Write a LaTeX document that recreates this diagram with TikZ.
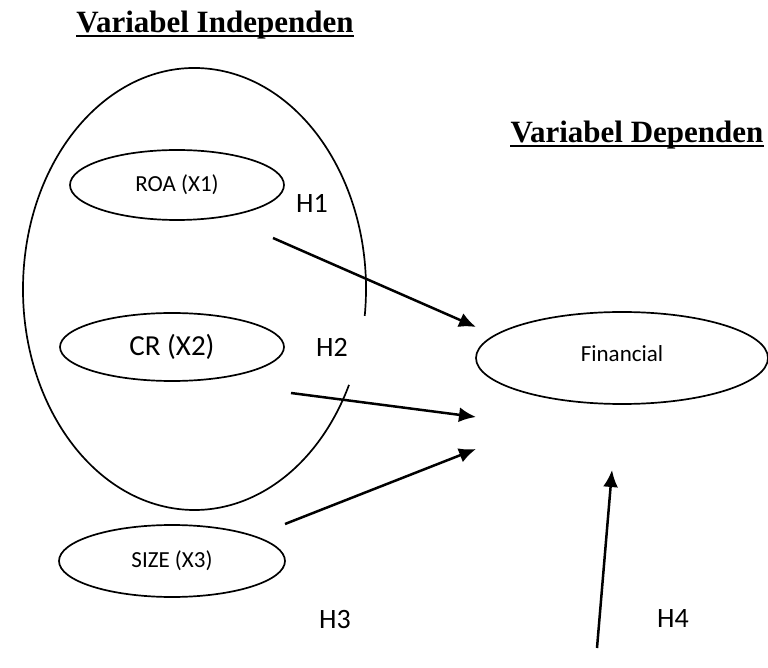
\documentclass[tikz,border=0pt]{standalone}
\usepackage{fontspec}
\setmainfont{Carlito}
\newfontfamily\titlefont{Liberation Serif}
\usetikzlibrary{shapes.geometric,arrows.meta}

\begin{document}
\begin{tikzpicture}[x=1pt, y=1pt]
    \tikzset{>={Latex[length=17pt, width=15pt]}}
    \tikzset{var/.style = {draw, ellipse, line width=1.7pt, inner sep=0pt}}
    \tikzset{hyp/.style = {font=\fontsize{28}{30}\selectfont}}
    \tikzset{title/.style = {font=\titlefont\bfseries\fontsize{31}{36}\selectfont, inner sep=0pt, anchor=base}}
    \tikzset{path/.style = {->, line width=2.5pt}}

    \useasboundingbox (0,0) rectangle (768,667);

    % titles
    \node[title] (Indep) at (215,634) {Variabel Independen};
    \draw[line width=2.2pt] ([yshift=-3pt]Indep.base west) -- ([yshift=-3pt]Indep.base east);
    \node[title] (Dep) at (637,524) {Variabel Dependen};
    \draw[line width=2.2pt] ([yshift=-3pt]Dep.base west) -- ([yshift=-3pt]Dep.base east);

    % group of independent variables (open on the right)
    \coordinate (GroupCenter) at (194.5,378);
    \draw[line width=1.7pt] (GroupCenter) ++(-7:171.5 and 221) arc[start angle=-7, end angle=334.3, x radius=171.5, y radius=221];

    \node[var, minimum width=214, minimum height=70, font=\fontsize{23}{27}\selectfont] (ROA) at (177,482) {ROA (X1)};
    \node[var, minimum width=224, minimum height=68, font=\fontsize{29}{33}\selectfont] (CR) at (172,320) {CR (X2)};
    \node[var, minimum width=226, minimum height=72, font=\fontsize{23}{27}\selectfont] (SIZE) at (172,106) {SIZE (X3)};
    \node[var, minimum width=292, minimum height=92, font=\fontsize{23}{27}\selectfont] (Fin) at (622,309) {\raisebox{8pt}{Financial}};

    % hypotheses
    \coordinate (H1s) at (273,429);  \coordinate (H1e) at (476,340);
    \coordinate (H2s) at (291,274);  \coordinate (H2e) at (476,250);
    \coordinate (H3s) at (285,143);  \coordinate (H3e) at (476,218);
    \coordinate (H4s) at (597,19);   \coordinate (H4e) at (612,197);
    \draw[path] (H1s) -- (H1e);
    \draw[path] (H2s) -- (H2e);
    \draw[path] (H3s) -- (H3e);
    \draw[path] (H4s) -- (H4e);

    \node[hyp] (H1) at (312,464) {H1};
    \node[hyp] (H2) at (332,320) {H2};
    \node[hyp] (H3) at (335,47) {H3};
    \node[hyp] (H4) at (673,48) {H4};
\end{tikzpicture}
\end{document}
